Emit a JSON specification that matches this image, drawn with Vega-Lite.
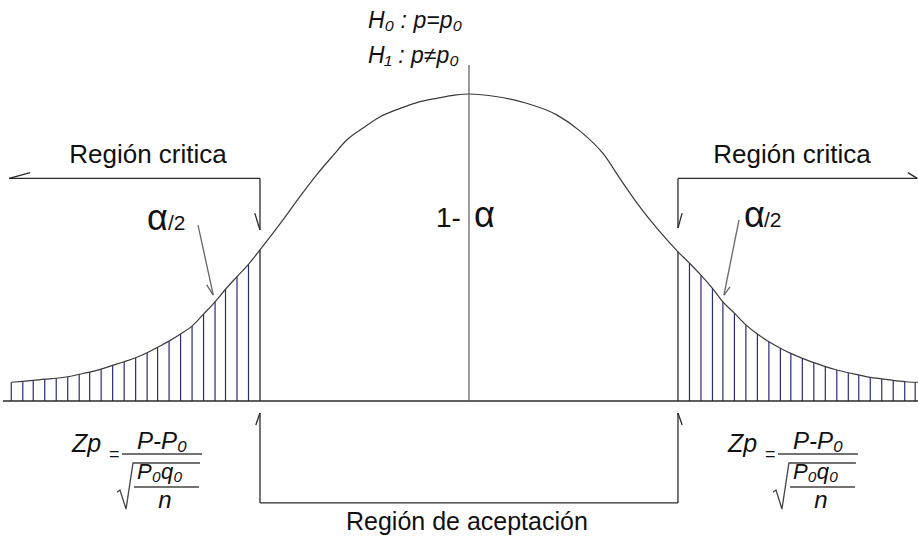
{
  "$schema": "https://vega.github.io/schema/vega-lite/v6.json",
  "width": 918,
  "height": 540,
  "autosize": "none",
  "padding": 0,
  "background": "white",
  "config": {"view": {"stroke": null}, "font": "Liberation Sans"},
  "datasets": {
    "curve": [
      {"z": -4.38, "h": 0.061}, {"z": -4.27, "h": 0.064}, {"z": -4.17, "h": 0.067}, {"z": -4.06, "h": 0.071},
      {"z": -3.95, "h": 0.074}, {"z": -3.84, "h": 0.079}, {"z": -3.73, "h": 0.087}, {"z": -3.63, "h": 0.094},
      {"z": -3.52, "h": 0.104}, {"z": -3.41, "h": 0.116}, {"z": -3.30, "h": 0.128}, {"z": -3.19, "h": 0.141},
      {"z": -3.08, "h": 0.157}, {"z": -2.98, "h": 0.175}, {"z": -2.87, "h": 0.195}, {"z": -2.76, "h": 0.218},
      {"z": -2.65, "h": 0.244}, {"z": -2.54, "h": 0.283}, {"z": -2.43, "h": 0.323}, {"z": -2.33, "h": 0.364},
      {"z": -2.22, "h": 0.405}, {"z": -2.11, "h": 0.445}, {"z": -2.00, "h": 0.492},
      {"z": -1.78, "h": 0.590}, {"z": -1.62, "h": 0.665}, {"z": -1.46, "h": 0.736}, {"z": -1.30, "h": 0.800},
      {"z": -1.17, "h": 0.850}, {"z": -1.01, "h": 0.890}, {"z": -0.85, "h": 0.926}, {"z": -0.66, "h": 0.953},
      {"z": -0.50, "h": 0.972}, {"z": -0.31, "h": 0.986}, {"z": -0.12, "h": 0.997}, {"z": 0.00, "h": 1.000},
      {"z": 0.27, "h": 0.991}, {"z": 0.55, "h": 0.970}, {"z": 0.84, "h": 0.932}, {"z": 1.06, "h": 0.880},
      {"z": 1.29, "h": 0.803}, {"z": 1.45, "h": 0.722}, {"z": 1.61, "h": 0.644}, {"z": 1.80, "h": 0.562},
      {"z": 2.00, "h": 0.486}, {"z": 2.11, "h": 0.449}, {"z": 2.22, "h": 0.410}, {"z": 2.33, "h": 0.367},
      {"z": 2.43, "h": 0.323}, {"z": 2.54, "h": 0.286}, {"z": 2.65, "h": 0.248}, {"z": 2.76, "h": 0.218},
      {"z": 2.87, "h": 0.193}, {"z": 2.98, "h": 0.172}, {"z": 3.08, "h": 0.155}, {"z": 3.19, "h": 0.139},
      {"z": 3.30, "h": 0.125}, {"z": 3.41, "h": 0.112}, {"z": 3.52, "h": 0.101}, {"z": 3.63, "h": 0.092},
      {"z": 3.73, "h": 0.085}, {"z": 3.84, "h": 0.077}, {"z": 3.95, "h": 0.072}, {"z": 4.06, "h": 0.067},
      {"z": 4.17, "h": 0.063}, {"z": 4.27, "h": 0.061}, {"z": 4.30, "h": 0.061}
    ],
    "hatch": [
      {"z": -4.38, "h": 0.061}, {"z": -4.27, "h": 0.064}, {"z": -4.17, "h": 0.067}, {"z": -4.06, "h": 0.071},
      {"z": -3.95, "h": 0.074}, {"z": -3.84, "h": 0.079}, {"z": -3.73, "h": 0.087}, {"z": -3.63, "h": 0.094},
      {"z": -3.52, "h": 0.104}, {"z": -3.41, "h": 0.116}, {"z": -3.30, "h": 0.128}, {"z": -3.19, "h": 0.141},
      {"z": -3.08, "h": 0.157}, {"z": -2.98, "h": 0.175}, {"z": -2.87, "h": 0.195}, {"z": -2.76, "h": 0.218},
      {"z": -2.65, "h": 0.244}, {"z": -2.54, "h": 0.283}, {"z": -2.43, "h": 0.323}, {"z": -2.33, "h": 0.364},
      {"z": -2.22, "h": 0.405}, {"z": -2.11, "h": 0.445},
      {"z": 2.11, "h": 0.449}, {"z": 2.22, "h": 0.410}, {"z": 2.33, "h": 0.367},
      {"z": 2.43, "h": 0.323}, {"z": 2.54, "h": 0.286}, {"z": 2.65, "h": 0.248}, {"z": 2.76, "h": 0.218},
      {"z": 2.87, "h": 0.193}, {"z": 2.98, "h": 0.172}, {"z": 3.08, "h": 0.155}, {"z": 3.19, "h": 0.139},
      {"z": 3.30, "h": 0.125}, {"z": 3.41, "h": 0.112}, {"z": 3.52, "h": 0.101}, {"z": 3.63, "h": 0.092},
      {"z": 3.73, "h": 0.085}, {"z": 3.84, "h": 0.077}, {"z": 3.95, "h": 0.072}, {"z": 4.06, "h": 0.067},
      {"z": 4.17, "h": 0.063}, {"z": 4.27, "h": 0.061}
    ],
    "segments": [
      {"kind": "dark", "z": -4.46, "h": 0, "z2": 4.30, "h2": 0},
      {"kind": "dark", "z": -4.40, "h": 0.725, "z2": -2.0, "h2": 0.725},
      {"kind": "dark", "z": -4.40, "h": 0.725, "z2": -4.20, "h2": 0.744},
      {"kind": "dark", "z": -2.0, "h": 0.725, "z2": -2.0, "h2": 0.557},
      {"kind": "dark", "z": -2.05, "h": 0.612, "z2": -2.0, "h2": 0.557},
      {"kind": "dark", "z": 2.0, "h": 0.725, "z2": 4.29, "h2": 0.725},
      {"kind": "dark", "z": 4.20, "h": 0.744, "z2": 4.29, "h2": 0.725},
      {"kind": "dark", "z": 2.0, "h": 0.725, "z2": 2.0, "h2": 0.5635},
      {"kind": "dark", "z": 2.04, "h": 0.612, "z2": 2.0, "h2": 0.5635},
      {"kind": "dark", "z": -2.0, "h": -0.039, "z2": -2.0, "h2": -0.332},
      {"kind": "dark", "z": -2.0, "h": -0.332, "z2": 2.0, "h2": -0.332},
      {"kind": "dark", "z": 2.0, "h": -0.332, "z2": 2.0, "h2": -0.039},
      {"kind": "dark", "z": -2.04, "h": -0.078, "z2": -2.0, "h2": -0.039},
      {"kind": "dark", "z": 2.04, "h": -0.078, "z2": 2.0, "h2": -0.039},
      {"kind": "dark", "z": -2.0, "h": 0, "z2": -2.0, "h2": 0.492},
      {"kind": "dark", "z": 2.0, "h": 0, "z2": 2.0, "h2": 0.486},
      {"kind": "gray", "z": 0, "h": 1.0945, "z2": 0, "h2": 0},
      {"kind": "gray", "z": -2.593, "h": 0.573, "z2": -2.447, "h2": 0.345},
      {"kind": "gray", "z": -2.510, "h": 0.378, "z2": -2.447, "h2": 0.345},
      {"kind": "gray", "z": 2.584, "h": 0.590, "z2": 2.440, "h2": 0.345},
      {"kind": "gray", "z": 2.498, "h": 0.372, "z2": 2.440, "h2": 0.345},
      {"kind": "formula", "z": -3.321, "h": -0.173, "z2": -2.555, "h2": -0.173},
      {"kind": "formula", "z": -3.206, "h": -0.280, "z2": -2.584, "h2": -0.280},
      {"kind": "formula", "z": 2.957, "h": -0.173, "z2": 3.722, "h2": -0.173},
      {"kind": "formula", "z": 3.072, "h": -0.280, "z2": 3.694, "h2": -0.280}
    ],
    "sqrt": [
      {"f": "L", "o": 0, "z": -3.368, "h": -0.297}, {"f": "L", "o": 1, "z": -3.340, "h": -0.290},
      {"f": "L", "o": 2, "z": -3.282, "h": -0.352}, {"f": "L", "o": 3, "z": -3.215, "h": -0.202},
      {"f": "L", "o": 4, "z": -2.574, "h": -0.202},
      {"f": "R", "o": 0, "z": 2.909, "h": -0.297}, {"f": "R", "o": 1, "z": 2.938, "h": -0.290},
      {"f": "R", "o": 2, "z": 2.995, "h": -0.352}, {"f": "R", "o": 3, "z": 3.062, "h": -0.202},
      {"f": "R", "o": 4, "z": 3.703, "h": -0.202}
    ],
    "labels": [
      {"kind": "critica", "z": -3.072, "h": 0.775, "t": "Región critica"},
      {"kind": "critica", "z": 3.091, "h": 0.775, "t": "Región critica"},
      {"kind": "region", "z": -0.02, "h": -0.42, "t": "Región de aceptación"},
      {"kind": "hyp", "z": -0.967, "h": 1.215, "t": "H₀ : p=p₀"},
      {"kind": "hyp", "z": -0.967, "h": 1.101, "t": "H₁ : p≠p₀"},
      {"kind": "one", "z": -0.077, "h": 0.567, "t": "1-"},
      {"kind": "alpha", "z": 0.048, "h": 0.567, "t": "α"},
      {"kind": "alpha", "z": -3.081, "h": 0.557, "t": "α"},
      {"kind": "alpha", "z": 2.632, "h": 0.567, "t": "α"},
      {"kind": "half", "z": -2.880, "h": 0.557, "t": "/2"},
      {"kind": "half", "z": 2.823, "h": 0.567, "t": "/2"},
      {"kind": "zp", "z": -3.799, "h": -0.166, "t": "Zp"},
      {"kind": "zp", "z": 2.478, "h": -0.166, "t": "Zp"},
      {"kind": "eq", "z": -3.445, "h": -0.192, "t": "="},
      {"kind": "eq", "z": 2.833, "h": -0.192, "t": "="},
      {"kind": "numtop", "z": -3.177, "h": -0.157, "t": "P-P₀"},
      {"kind": "num", "z": -3.177, "h": -0.254, "t": "P₀q₀"},
      {"kind": "numtop", "z": 3.100, "h": -0.157, "t": "P-P₀"},
      {"kind": "num", "z": 3.100, "h": -0.254, "t": "P₀q₀"},
      {"kind": "n", "z": -2.909, "h": -0.3485, "t": "n"},
      {"kind": "n", "z": 3.368, "h": -0.3485, "t": "n"}
    ]
  },
  "layer": [
    {
      "data": {"name": "hatch"},
      "mark": {"type": "rule", "color": "#2b2b7a", "strokeWidth": 1.2},
      "encoding": {
        "x": {"field": "z", "type": "quantitative", "scale": {"domain": [-4.488, 4.297], "nice": false, "zero": false}, "axis": null},
        "y": {"field": "h", "type": "quantitative", "scale": {"domain": [-0.4528, 1.3062], "nice": false, "zero": false}, "axis": null},
        "y2": {"datum": 0}
      }
    },
    {
      "data": {"name": "curve"},
      "mark": {"type": "line", "color": "#3a3a3a", "strokeWidth": 1.2, "interpolate": "monotone"},
      "encoding": {
        "x": {"field": "z", "type": "quantitative", "scale": {"domain": [-4.488, 4.297], "nice": false, "zero": false}, "axis": null},
        "y": {"field": "h", "type": "quantitative", "scale": {"domain": [-0.4528, 1.3062], "nice": false, "zero": false}, "axis": null}
      }
    },
    {
      "data": {"name": "segments"},
      "transform": [{"filter": "datum.kind === 'dark'"}],
      "mark": {"type": "rule", "color": "#2a2a2a", "strokeWidth": 1.3},
      "encoding": {
        "x": {"field": "z", "type": "quantitative", "scale": {"domain": [-4.488, 4.297], "nice": false, "zero": false}, "axis": null},
        "y": {"field": "h", "type": "quantitative", "scale": {"domain": [-0.4528, 1.3062], "nice": false, "zero": false}, "axis": null},
        "x2": {"field": "z2"},
        "y2": {"field": "h2"}
      }
    },
    {
      "data": {"name": "segments"},
      "transform": [{"filter": "datum.kind === 'gray'"}],
      "mark": {"type": "rule", "color": "#666666", "strokeWidth": 1.3},
      "encoding": {
        "x": {"field": "z", "type": "quantitative", "scale": {"domain": [-4.488, 4.297], "nice": false, "zero": false}, "axis": null},
        "y": {"field": "h", "type": "quantitative", "scale": {"domain": [-0.4528, 1.3062], "nice": false, "zero": false}, "axis": null},
        "x2": {"field": "z2"},
        "y2": {"field": "h2"}
      }
    },
    {
      "data": {"name": "segments"},
      "transform": [{"filter": "datum.kind === 'formula'"}],
      "mark": {"type": "rule", "color": "#444444", "strokeWidth": 1.5},
      "encoding": {
        "x": {"field": "z", "type": "quantitative", "scale": {"domain": [-4.488, 4.297], "nice": false, "zero": false}, "axis": null},
        "y": {"field": "h", "type": "quantitative", "scale": {"domain": [-0.4528, 1.3062], "nice": false, "zero": false}, "axis": null},
        "x2": {"field": "z2"},
        "y2": {"field": "h2"}
      }
    },
    {
      "data": {"name": "sqrt"},
      "mark": {"type": "line", "color": "#444444", "strokeWidth": 1.3},
      "encoding": {
        "x": {"field": "z", "type": "quantitative", "scale": {"domain": [-4.488, 4.297], "nice": false, "zero": false}, "axis": null},
        "y": {"field": "h", "type": "quantitative", "scale": {"domain": [-0.4528, 1.3062], "nice": false, "zero": false}, "axis": null},
        "detail": {"field": "f"},
        "order": {"field": "o", "type": "quantitative"}
      }
    },
    {
      "data": {"name": "labels"},
      "transform": [{"filter": "datum.kind === 'critica'"}],
      "mark": {"type": "text", "fontSize": 26, "align": "center", "baseline": "alphabetic", "color": "#111111"},
      "encoding": {
        "x": {"field": "z", "type": "quantitative", "scale": {"domain": [-4.488, 4.297], "nice": false, "zero": false}, "axis": null},
        "y": {"field": "h", "type": "quantitative", "scale": {"domain": [-0.4528, 1.3062], "nice": false, "zero": false}, "axis": null},
        "text": {"field": "t"}
      }
    },
    {
      "data": {"name": "labels"},
      "transform": [{"filter": "datum.kind === 'region'"}],
      "mark": {"type": "text", "fontSize": 25, "align": "center", "baseline": "alphabetic", "color": "#111111"},
      "encoding": {
        "x": {"field": "z", "type": "quantitative", "scale": {"domain": [-4.488, 4.297], "nice": false, "zero": false}, "axis": null},
        "y": {"field": "h", "type": "quantitative", "scale": {"domain": [-0.4528, 1.3062], "nice": false, "zero": false}, "axis": null},
        "text": {"field": "t"}
      }
    },
    {
      "data": {"name": "labels"},
      "transform": [{"filter": "datum.kind === 'hyp'"}],
      "mark": {"type": "text", "fontSize": 23, "fontStyle": "italic", "align": "left", "baseline": "alphabetic", "color": "#111111"},
      "encoding": {
        "x": {"field": "z", "type": "quantitative", "scale": {"domain": [-4.488, 4.297], "nice": false, "zero": false}, "axis": null},
        "y": {"field": "h", "type": "quantitative", "scale": {"domain": [-0.4528, 1.3062], "nice": false, "zero": false}, "axis": null},
        "text": {"field": "t"}
      }
    },
    {
      "data": {"name": "labels"},
      "transform": [{"filter": "datum.kind === 'one'"}],
      "mark": {"type": "text", "fontSize": 28, "align": "right", "baseline": "alphabetic", "color": "#111111"},
      "encoding": {
        "x": {"field": "z", "type": "quantitative", "scale": {"domain": [-4.488, 4.297], "nice": false, "zero": false}, "axis": null},
        "y": {"field": "h", "type": "quantitative", "scale": {"domain": [-0.4528, 1.3062], "nice": false, "zero": false}, "axis": null},
        "text": {"field": "t"}
      }
    },
    {
      "data": {"name": "labels"},
      "transform": [{"filter": "datum.kind === 'alpha'"}],
      "mark": {"type": "text", "fontSize": 36, "align": "left", "baseline": "alphabetic", "color": "#111111"},
      "encoding": {
        "x": {"field": "z", "type": "quantitative", "scale": {"domain": [-4.488, 4.297], "nice": false, "zero": false}, "axis": null},
        "y": {"field": "h", "type": "quantitative", "scale": {"domain": [-0.4528, 1.3062], "nice": false, "zero": false}, "axis": null},
        "text": {"field": "t"}
      }
    },
    {
      "data": {"name": "labels"},
      "transform": [{"filter": "datum.kind === 'half'"}],
      "mark": {"type": "text", "fontSize": 21, "align": "left", "baseline": "alphabetic", "color": "#111111"},
      "encoding": {
        "x": {"field": "z", "type": "quantitative", "scale": {"domain": [-4.488, 4.297], "nice": false, "zero": false}, "axis": null},
        "y": {"field": "h", "type": "quantitative", "scale": {"domain": [-0.4528, 1.3062], "nice": false, "zero": false}, "axis": null},
        "text": {"field": "t"}
      }
    },
    {
      "data": {"name": "labels"},
      "transform": [{"filter": "datum.kind === 'zp'"}],
      "mark": {"type": "text", "fontSize": 25, "fontStyle": "italic", "align": "left", "baseline": "alphabetic", "color": "#111111"},
      "encoding": {
        "x": {"field": "z", "type": "quantitative", "scale": {"domain": [-4.488, 4.297], "nice": false, "zero": false}, "axis": null},
        "y": {"field": "h", "type": "quantitative", "scale": {"domain": [-0.4528, 1.3062], "nice": false, "zero": false}, "axis": null},
        "text": {"field": "t"}
      }
    },
    {
      "data": {"name": "labels"},
      "transform": [{"filter": "datum.kind === 'eq'"}],
      "mark": {"type": "text", "fontSize": 18, "align": "left", "baseline": "alphabetic", "color": "#111111"},
      "encoding": {
        "x": {"field": "z", "type": "quantitative", "scale": {"domain": [-4.488, 4.297], "nice": false, "zero": false}, "axis": null},
        "y": {"field": "h", "type": "quantitative", "scale": {"domain": [-0.4528, 1.3062], "nice": false, "zero": false}, "axis": null},
        "text": {"field": "t"}
      }
    },
    {
      "data": {"name": "labels"},
      "transform": [{"filter": "datum.kind === 'numtop'"}],
      "mark": {"type": "text", "fontSize": 24, "fontStyle": "italic", "align": "left", "baseline": "alphabetic", "color": "#111111"},
      "encoding": {
        "x": {"field": "z", "type": "quantitative", "scale": {"domain": [-4.488, 4.297], "nice": false, "zero": false}, "axis": null},
        "y": {"field": "h", "type": "quantitative", "scale": {"domain": [-0.4528, 1.3062], "nice": false, "zero": false}, "axis": null},
        "text": {"field": "t"}
      }
    },
    {
      "data": {"name": "labels"},
      "transform": [{"filter": "datum.kind === 'num'"}],
      "mark": {"type": "text", "fontSize": 22, "fontStyle": "italic", "align": "left", "baseline": "alphabetic", "color": "#111111"},
      "encoding": {
        "x": {"field": "z", "type": "quantitative", "scale": {"domain": [-4.488, 4.297], "nice": false, "zero": false}, "axis": null},
        "y": {"field": "h", "type": "quantitative", "scale": {"domain": [-0.4528, 1.3062], "nice": false, "zero": false}, "axis": null},
        "text": {"field": "t"}
      }
    },
    {
      "data": {"name": "labels"},
      "transform": [{"filter": "datum.kind === 'n'"}],
      "mark": {"type": "text", "fontSize": 24, "fontStyle": "italic", "align": "center", "baseline": "alphabetic", "color": "#111111"},
      "encoding": {
        "x": {"field": "z", "type": "quantitative", "scale": {"domain": [-4.488, 4.297], "nice": false, "zero": false}, "axis": null},
        "y": {"field": "h", "type": "quantitative", "scale": {"domain": [-0.4528, 1.3062], "nice": false, "zero": false}, "axis": null},
        "text": {"field": "t"}
      }
    }
  ]
}
